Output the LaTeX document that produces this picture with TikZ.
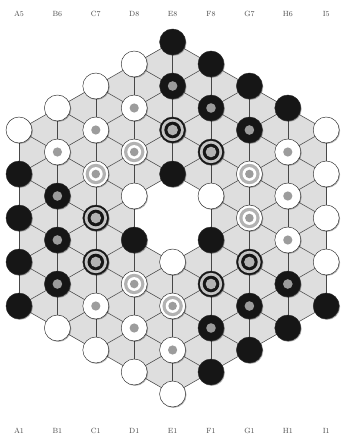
\documentclass[tikz,border=0pt]{standalone}
\usetikzlibrary{shadows}
\definecolor{boardgray}{HTML}{DEDEDE}
\definecolor{linegray}{HTML}{474747}
\definecolor{dotgray}{HTML}{9C9C9C}
\definecolor{bandgray}{HTML}{B2B2B2}
\definecolor{bandgrayb}{HTML}{C4C4C4}
\definecolor{pieceblack}{HTML}{161616}
\definecolor{labelgray}{HTML}{4A4A4A}
\begin{document}
\begin{tikzpicture}[x=1pt,y=-1pt,
  piece/.style={circle, minimum size=26pt, inner sep=0pt, draw=black!85, line width=0.45pt,
    drop shadow={shadow xshift=0.9pt, shadow yshift=-0.9pt, opacity=0.3, fill=black}},
  tw/.style={piece, fill=white},
  twd/.style={tw, path picture={\fill[dotgray] (path picture bounding box.center) circle (4.6pt);}},
  twc/.style={tw, path picture={
      \fill[bandgray] (path picture bounding box.center) circle (10.2pt);
      \fill[white] (path picture bounding box.center) circle (6.9pt);
      \fill[dotgray] (path picture bounding box.center) circle (4.3pt);}},
  tb/.style={piece, fill=pieceblack},
  tbd/.style={tb, path picture={\fill[dotgray] (path picture bounding box.center) circle (4.8pt);}},
  tbc/.style={tb, path picture={
      \fill[bandgrayb] (path picture bounding box.center) circle (11.2pt);
      \fill[pieceblack] (path picture bounding box.center) circle (8.3pt);
      \fill[bandgray] (path picture bounding box.center) circle (5.3pt);}},
  hole/.style={coordinate},
  grid/.style={draw=linegray, line width=0.55pt},
  lab/.style={font=\fontsize{7.5}{8.5}\selectfont, text=labelgray, inner sep=0pt}
]
\fill[white] (0,0) rectangle (340,435);
\useasboundingbox (0,0) rectangle (340,435);
% positions
\foreach \i/\n/\t in {0/5/130,1/6/108,2/7/86,3/8/64,4/9/42,5/8/64,6/7/86,7/6/108,8/5/130}{
  \pgfmathtruncatemacro\m{\n-1}
  \foreach \k in {0,...,\m}{
    \coordinate (p\i-\k) at ({19+38.4*\i},{\t+44*\k});
  }
}
% board
\fill[boardgray] (p0-0) -- (p4-0) -- (p8-0) -- (p8-4) -- (p4-8) -- (p0-4) -- cycle;
\fill[white] (p3-3) -- (p4-3) -- (p5-3) -- (p5-4) -- (p4-5) -- (p3-4) -- cycle;
% vertical lines
\foreach \i/\n in {0/5,1/6,2/7,3/8,4/9,5/8,6/7,7/6,8/5}{
  \pgfmathtruncatemacro\m{\n-2}
  \foreach \k in {0,...,\m}{
    \pgfmathtruncatemacro\kk{\k+1}
    \pgfmathtruncatemacro\noedge{(\i==4)&&((\k==4)||(\kk==4))}
    \ifnum\noedge=0 \draw[grid] (p\i-\k) -- (p\i-\kk);\fi
  }
}
% diagonal lines
\foreach \s/\b/\n in {0/1/5,1/2/6,2/3/7,3/4/8,5/4/8,6/5/7,7/6/6,8/7/5}{
  \pgfmathtruncatemacro\m{\n-1}
  \foreach \k in {0,...,\m}{
    \pgfmathtruncatemacro\kk{\k+1}
    \pgfmathtruncatemacro\noa{(\b==4)&&(\k==4)}
    \pgfmathtruncatemacro\nob{(\b==4)&&(\kk==4)}
    \ifnum\noa=0 \draw[grid] (p\s-\k) -- (p\b-\k);\fi
    \ifnum\nob=0 \draw[grid] (p\s-\k) -- (p\b-\kk);\fi
  }
}
% pieces
\foreach \i/\types in {
  0/{tw,tb,tb,tb,tb},
  1/{tw,twd,tbd,tbd,tbd,tw},
  2/{tw,twd,twc,tbc,tbc,twd,tw},
  3/{tw,twd,twc,tw,tb,twc,twd,tw},
  4/{tb,tbd,tbc,tb,hole,tw,twc,twd,tw},
  5/{tb,tbd,tbc,tw,tb,tbc,tbd,tb},
  6/{tb,tbd,twc,twc,tbc,tbd,tb},
  7/{tb,twd,twd,twd,tbd,tb},
  8/{tw,tw,tw,tw,tb}}{
  \foreach \ty [count=\k from 0] in \types {
    \node[\ty] (pc\i-\k) at (p\i-\k) {};
  }
}
% labels
\foreach \lt/\lb [count=\c from 0] in {A5/A1,B6/B1,C7/C1,D8/D1,E8/E1,F8/F1,G7/G1,H6/H1,I5/I1}{
  \node[lab] (top\c) at ({19+38.4*\c},14) {\lt};
  \node[lab] (bot\c) at ({19+38.4*\c},431) {\lb};
}
\end{tikzpicture}
\end{document}
